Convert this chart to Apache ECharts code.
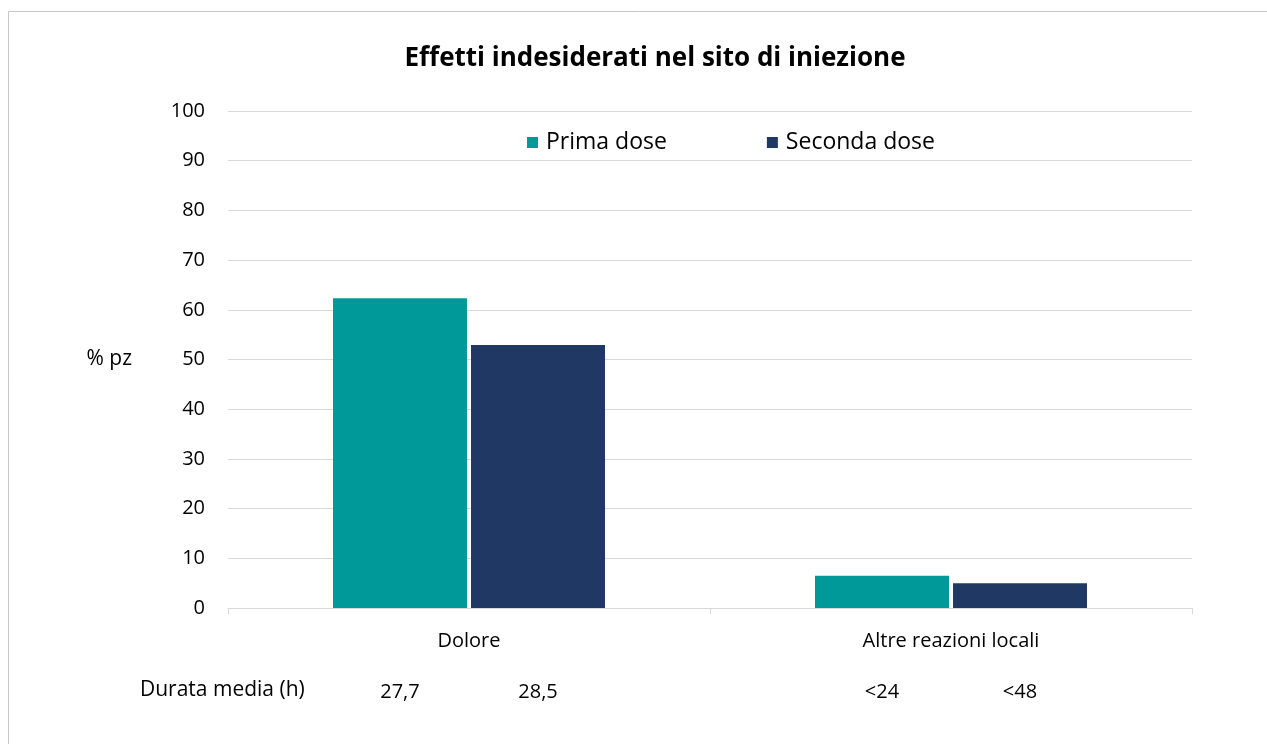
<!DOCTYPE html>
<html>
<head>
<meta charset="utf-8">
<script src="https://cdn.jsdelivr.net/npm/echarts@6/dist/echarts.min.js"></script>
<style>
html, body { margin: 0; padding: 0; background: #fff; }
#chart { width: 1267px; height: 744px; }
</style>
</head>
<body>
<div id="chart"></div>
<script>
var categories = ["Dolore", "Altre reazioni locali"];
var seriesNames = ["Prima dose", "Seconda dose"];
var primaDose = [62.3, 6.5];
var secondaDose = [52.9, 5.0];
// durata media (h) sotto ogni barra
var durataPrima = ["27,7", "<24"];
var durataSeconda = ["28,5", "<48"];

var font = "'Open Sans', 'Noto Sans', sans-serif";

function durataLabel(arr) {
    return {
        show: true,
        position: "insideBottom",
        offset: [0, 99],
        color: "#000",
        fontFamily: font,
        fontSize: 20,
        formatter: function (p) { return arr[p.dataIndex]; }
    };
}

var chart = echarts.init(document.getElementById("chart"));
chart.setOption({
    backgroundColor: "#fff",
    animation: false,
    title: {
        text: "Effetti indesiderati nel sito di iniezione",
        left: 650,
        top: 41,
        textAlign: "center",
        textStyle: { fontFamily: font, fontSize: 26, fontWeight: "bold", color: "#000" }
    },
    legend: {
        data: seriesNames,
        left: 522,
        top: 126,
        icon: "rect",
        itemWidth: 11,
        itemHeight: 11,
        itemGap: 100,
        textStyle: { fontFamily: font, fontSize: 23, color: "#000", padding: [0, 0, 0, 3] }
    },
    grid: { left: 228, right: 75, top: 111, bottom: 136 },
    xAxis: {
        type: "category",
        data: categories,
        axisLine: { lineStyle: { color: "#d9d9d9", width: 1 } },
        axisTick: { show: true, length: 6, lineStyle: { color: "#d9d9d9" } },
        axisLabel: { fontFamily: font, fontSize: 20, color: "#000", margin: 23 }
    },
    yAxis: {
        type: "value",
        min: 0,
        max: 100,
        interval: 10,
        name: "% pz",
        nameLocation: "middle",
        nameRotate: 0,
        nameGap: 96,
        nameTextStyle: { fontFamily: font, fontSize: 21, color: "#000" },
        axisLine: { show: false },
        axisTick: { show: false },
        axisLabel: { fontFamily: font, fontSize: 20, color: "#000", margin: 23 },
        splitLine: { lineStyle: { color: "#d9d9d9", width: 1 } }
    },
    graphic: [
        {
            type: "rect",
            shape: { x: 8.5, y: 11.5, width: 1300, height: 800 },
            style: { fill: "none", stroke: "#c8c8c8", lineWidth: 1 }
        },
        {
            type: "text",
            left: 140,
            top: 680,
            style: { text: "Durata media (h)", fontFamily: font, fontSize: 21, fill: "#000" }
        }
    ],
    series: [
        {
            name: seriesNames[0],
            type: "bar",
            data: primaDose,
            barWidth: 134,
            barGap: "3%",
            itemStyle: { color: "#009999" },
            label: durataLabel(durataPrima)
        },
        {
            name: seriesNames[1],
            type: "bar",
            data: secondaDose,
            barWidth: 134,
            itemStyle: { color: "#203864" },
            label: durataLabel(durataSeconda)
        }
    ]
});
</script>
</body>
</html>
